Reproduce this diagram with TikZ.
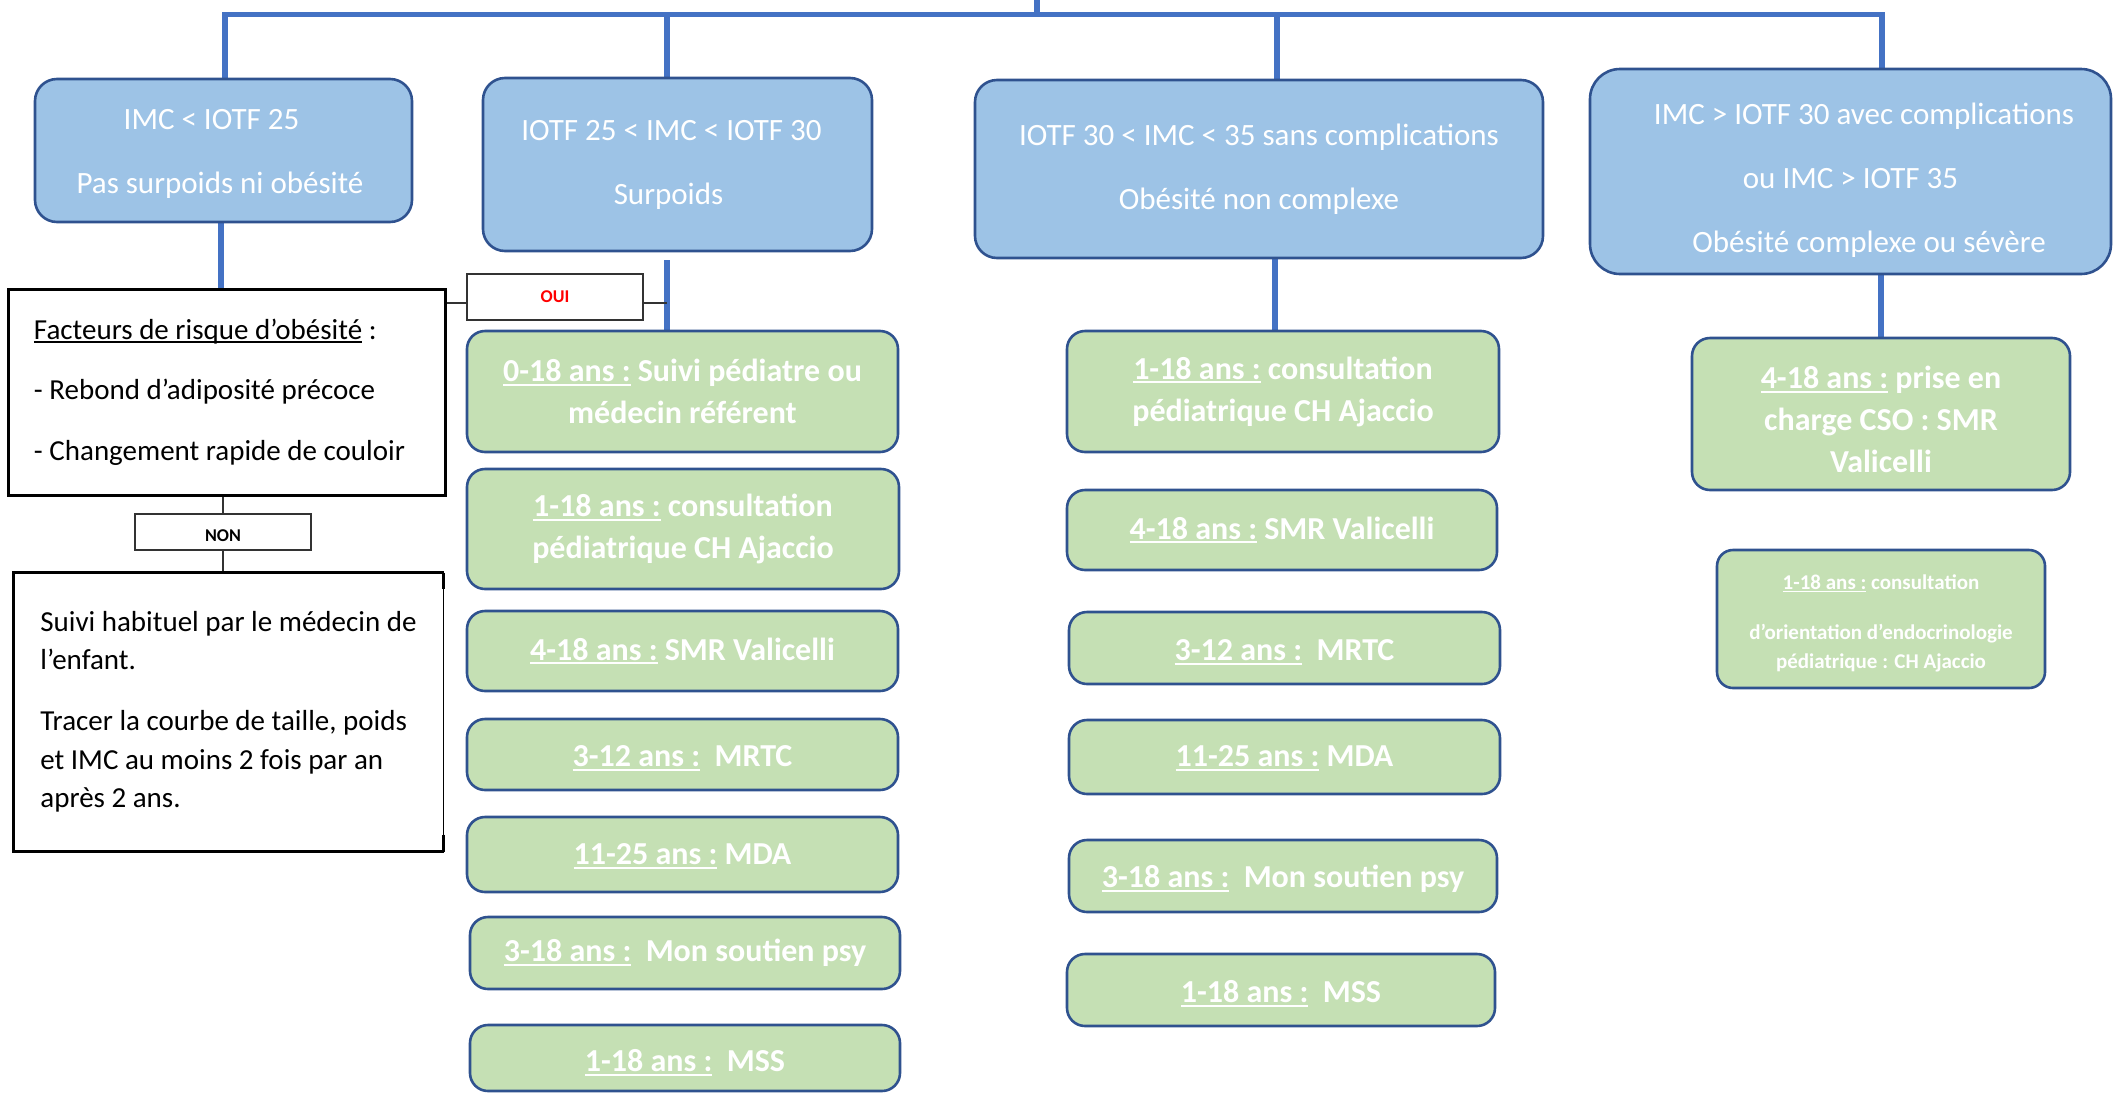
\documentclass[tikz,border=0pt]{standalone}
\usepackage{fontspec}
\setmainfont{Carlito}
\usetikzlibrary{calc}
\definecolor{hdrfill}{HTML}{9DC3E6}
\definecolor{boxedge}{HTML}{2F528F}
\definecolor{grnfill}{HTML}{C5E0B4}
\definecolor{conblue}{HTML}{4472C4}
\definecolor{ouired}{HTML}{FF0000}
\newsavebox\ulbox
\newcommand\ulx[1]{\sbox\ulbox{#1}\rlap{\rule[-0.13em]{\wd\ulbox}{0.065em}}\usebox\ulbox}
\newcommand\lift[1]{\rule{0pt}{#1pt}}
\pgfdeclarelayer{bg}
\pgfsetlayers{bg,main}
\tikzset{
  hdr/.style={draw=boxedge, line width=2.6pt, fill=hdrfill, rounded corners=22pt, text=white, align=center, font=\fontsize{31}{64}\selectfont, inner sep=0pt},
  grn/.style={draw=boxedge, line width=2.6pt, fill=grnfill, rounded corners=18pt, text=white, align=center, font=\fontsize{32}{42}\selectfont\bfseries, inner sep=0pt},
  plainbox/.style={line width=3pt, inner sep=0pt, align=flush left, text=black},
  tagbox/.style={draw=black!80, line width=1.3pt, inner sep=0pt, font=\fontsize{18}{20}\selectfont\bfseries},
  conb/.style={draw=conblue, line width=5.5pt},
  conk/.style={draw=black!80, line width=1.3pt},
}
\begin{document}
\begin{tikzpicture}[x=1pt,y=-1pt]
\useasboundingbox (0,0) rectangle (2113,1093);

% header boxes
\node[hdr, minimum width=377pt, minimum height=143pt] (H1) at (223.5,150.5)
  {\lift{27}IMC < IOTF 25\hspace*{24pt}\\Pas surpoids ni obésité\hspace*{7pt}};
\node[hdr, minimum width=389pt, minimum height=173pt] (H2) at (677.5,164.5)
  {IOTF 25 < IMC < IOTF 30\hspace*{12pt}\\Surpoids\hspace*{18pt}};
\node[hdr, minimum width=568pt, minimum height=178pt] (H3) at (1259,169)
  {IOTF 30 < IMC < 35 sans complications\\Obésité non complexe};
\node[hdr, rounded corners=30pt, minimum width=521pt, minimum height=205pt] (H4) at (1850.5,171.5)
  {\lift{38}\hspace*{27pt}IMC > IOTF 30 avec complications\\ou IMC > IOTF 35\hspace*{25pt}\\\hspace*{37pt}Obésité complexe ou sévère};

% left column
\node[plainbox, draw=black, minimum width=437pt, minimum height=206pt, text width=385pt, inner xsep=26pt, font=\fontsize{29}{60.5}\selectfont] (F) at (226.5,392)
  {\ulx{Facteurs de risque d’obésité} :\\- Rebond d’adiposité précoce\\- Changement rapide de couloir};
\node[tagbox, minimum width=176pt, minimum height=36pt] (NON) at (223,532) {\lift{20}NON};
\node[plainbox, minimum width=427pt, minimum height=276pt, font=\fontsize{29}{38.5}\selectfont] (S) at (228.5,712)
  {Suivi habituel par le médecin de\\l’enfant.\\[22.5pt]Tracer la courbe de taille, poids\\et IMC au moins 2 fois par an\\après 2 ans.};
\draw[line width=3pt] (S.north east) -- (S.north west) -- (S.south west) -- (S.south east);
\draw[line width=1pt] (S.north east) -- (S.south east);
\draw[line width=3pt] (S.north east) -- ([yshift=-16pt]S.north east);
\draw[line width=3pt] ([yshift=17pt]S.south east) -- (S.south east);

\node[tagbox, text=ouired, minimum width=176pt, minimum height=46pt] (OUI) at (555,297) {OUI};

% column 2
\node[grn, minimum width=431pt, minimum height=121pt] (G1) at (682.5,391.5) {\ulx{0-18 ans :} Suivi pédiatre ou\\médecin référent};
\node[grn, minimum width=432pt, minimum height=120pt] (G2) at (683,529) {\ulx{1-18 ans :} consultation\\pédiatrique CH Ajaccio};
\node[grn, minimum width=431pt, minimum height=80pt] (G3) at (682.5,651) {\ulx{4-18 ans :} SMR Valicelli};
\node[grn, minimum width=431pt, minimum height=71pt] (G4) at (682.5,754.5) {\lift{29}\ulx{3-12 ans :}\ \ MRTC};
\node[grn, minimum width=431pt, minimum height=75pt] (G5) at (682.5,854.5) {\lift{24}\ulx{11-25 ans :} MDA};
\node[grn, minimum width=430pt, minimum height=72pt] (G6) at (685,953) {\ulx{3-18 ans :}\ \ Mon soutien psy};
\node[grn, minimum width=430pt, minimum height=66pt] (G7) at (685,1058) {\lift{31}\ulx{1-18 ans :}\ \ MSS};

% column 3
\node[grn, minimum width=432pt, minimum height=121pt] (K1) at (1283,391.5) {\ulx{1-18 ans :} consultation\\pédiatrique CH Ajaccio};
\node[grn, minimum width=430pt, minimum height=80pt] (K2) at (1282,530) {\ulx{4-18 ans :} SMR Valicelli};
\node[grn, minimum width=431pt, minimum height=72pt] (K3) at (1284.5,648) {\lift{29}\ulx{3-12 ans :}\ \ MRTC};
\node[grn, minimum width=431pt, minimum height=74pt] (K4) at (1284.5,757) {\lift{24}\ulx{11-25 ans :} MDA};
\node[grn, minimum width=428pt, minimum height=72pt] (K5) at (1283,876) {\lift{28}\ulx{3-18 ans :}\ \ Mon soutien psy};
\node[grn, minimum width=428pt, minimum height=72pt] (K6) at (1281,990) {\lift{29}\ulx{1-18 ans :}\ \ MSS};

% column 4
\node[grn, minimum width=378pt, minimum height=152pt] (A) at (1881,414) {\lift{34}\ulx{4-18 ans :} prise en\\charge CSO : SMR\\Valicelli};
\node[grn, rounded corners=16pt, minimum width=328pt, minimum height=138pt, font=\fontsize{21}{29}\selectfont\bfseries] (B) at (1881,619)
  {\lift{23}\ulx{1-18 ans :} consultation\\[21pt]d’orientation d’endocrinologie\\pédiatrique : CH Ajaccio};

% connectors
\coordinate (hub) at (1037,0);
\coordinate (bar) at (1037,14.5);
\coordinate (d1) at ([xshift=1.5pt]H1.north);
\coordinate (d2) at ([xshift=-10.5pt]H2.north);
\coordinate (d3) at ([xshift=18pt]H3.north);
\coordinate (d4) at ([xshift=31.5pt]H4.north);
\coordinate (ouiy) at (0,303);
\begin{pgfonlayer}{bg}
\draw[conb] (hub) -- (bar);
\draw[conb] (d1) -- (d1 |- bar) -- (d4 |- bar) -- (d4);
\draw[conb] (d2) -- (d2 |- bar);
\draw[conb] (d3) -- (d3 |- bar);
\draw[conb] ([xshift=-2.5pt]H1.south) -- ([xshift=-2.5pt]H1.south |- F.north);
\draw[conb] ([yshift=-8pt]d2 |- H2.south) -- (d2 |- G1.north);
\draw[conb] ([xshift=-8pt]K1.north |- H3.south) -- ([xshift=-8pt]K1.north);
\draw[conb] (A.north |- H4.south) -- (A.north);
\draw[conk] (F.east |- ouiy) -- (OUI.west |- ouiy);
\draw[conk] (OUI.east |- ouiy) -- (d2 |- ouiy);
\draw[conk] (NON.north |- F.south) -- (NON.north);
\draw[conk] (NON.south) -- (NON.south |- S.north);
\end{pgfonlayer}
\end{tikzpicture}
\end{document}
